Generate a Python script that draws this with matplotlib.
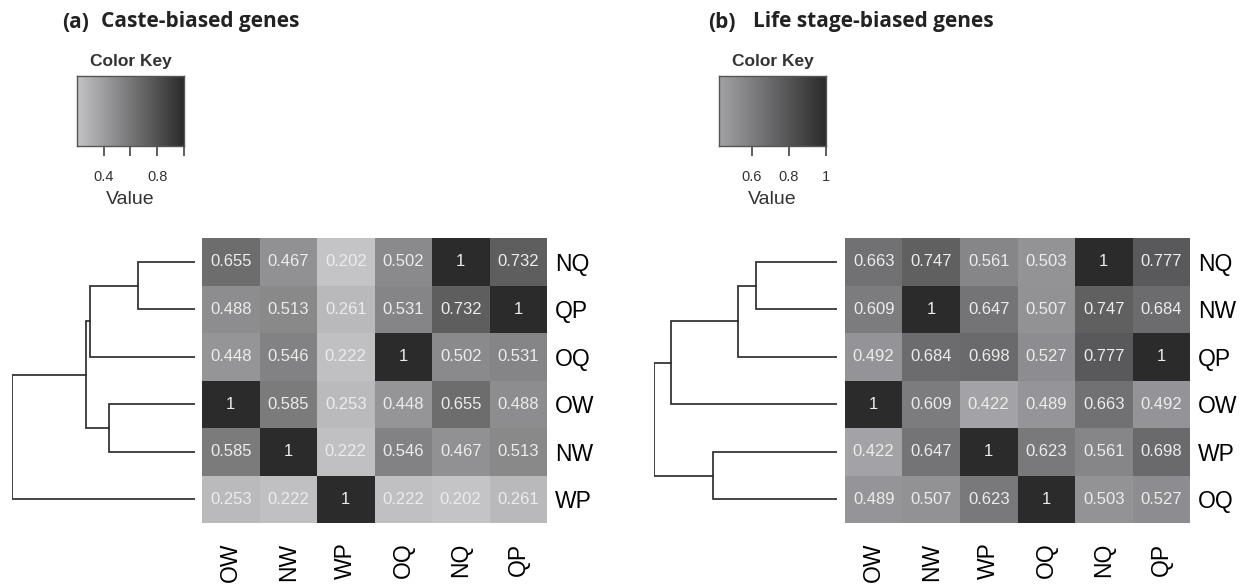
import numpy as np
import matplotlib
matplotlib.use("Agg")
import matplotlib.pyplot as plt
from matplotlib.colors import LinearSegmentedColormap

plt.rcParams['font.family'] = ['Liberation Sans', 'DejaVu Sans']

# ---- data ----
col_labels = ["OW", "NW", "WP", "OQ", "NQ", "QP"]

# (a) caste-biased genes
rows_a = ["NQ", "QP", "OQ", "OW", "NW", "WP"]
vals_a = [
    [0.655, 0.467, 0.202, 0.502, 1, 0.732],
    [0.488, 0.513, 0.261, 0.531, 0.732, 1],
    [0.448, 0.546, 0.222, 1, 0.502, 0.531],
    [1, 0.585, 0.253, 0.448, 0.655, 0.488],
    [0.585, 1, 0.222, 0.546, 0.467, 0.513],
    [0.253, 0.222, 1, 0.222, 0.202, 0.261],
]
# merges: (child, child, height); leaves are row indices, new clusters numbered from 6
merges_a = [(0, 1, 0.57), (6, 2, 1.04), (3, 4, 0.86), (7, 8, 1.08), (9, 5, 1.82)]
key_ticks_a = [0.4, 0.6, 0.8, 1.0]
key_labels_a = ["0.4", "", "0.8", ""]

# (b) life stage-biased genes
rows_b = ["NQ", "NW", "QP", "OW", "WP", "OQ"]
vals_b = [
    [0.663, 0.747, 0.561, 0.503, 1, 0.777],
    [0.609, 1, 0.647, 0.507, 0.747, 0.684],
    [0.492, 0.684, 0.698, 0.527, 0.777, 1],
    [1, 0.609, 0.422, 0.489, 0.663, 0.492],
    [0.422, 0.647, 1, 0.623, 0.561, 0.698],
    [0.489, 0.507, 0.623, 1, 0.503, 0.527],
]
merges_b = [(0, 1, 0.81), (6, 2, 0.99), (7, 3, 1.66), (4, 5, 1.24), (8, 9, 1.83)]
key_ticks_b = [0.6, 0.8, 1.0]
key_labels_b = ["0.6", "0.8", "1"]

W, H = 1260, 588
fig = plt.figure(figsize=(W / 100, H / 100), dpi=100)


def px_axes(x0, y0, x1, y1):
    # pixel box (top-left origin) -> figure axes
    return fig.add_axes([x0 / W, 1 - y1 / H, (x1 - x0) / W, (y1 - y0) / H])


def draw_dendro(ax, merges, n):
    pos = {i: (i + 0.5, 0.0) for i in range(n)}
    nid = n
    for a, b, h in merges:
        ya, ha = pos[a]
        yb, hb = pos[b]
        ax.plot([ha, h, h, hb], [ya, ya, yb, yb], color="#2e2e2e", lw=1.25,
                solid_joinstyle="miter")
        pos[nid] = ((ya + yb) / 2, h)
        nid += 1
    ax.set_ylim(n, 0)
    ax.set_xlim(merges[-1][2], 0)
    ax.axis("off")


def panel(vals, rows, merges, ticks, tlabels, light, heat_x0, dend_x0, key_x0,
          tag, title, tag_x, title_x):
    data = np.array(vals)
    vmin = data.min()
    cmap = LinearSegmentedColormap.from_list("g", [light, "#2b2b2b"])

    ax = px_axes(heat_x0, 238, heat_x0 + 345, 523)
    ax.pcolormesh(np.arange(7), np.arange(7), data, cmap=cmap, vmin=vmin, vmax=1)
    ax.set_xlim(0, 6)
    ax.set_ylim(6, 0)
    for i in range(6):
        for j in range(6):
            v = data[i, j]
            ax.text(j + 0.5, i + 0.5, f"{v:g}", ha="center", va="center",
                    color="#ececec", fontsize=12)
    ax.set_xticks(np.arange(6) + 0.5)
    ax.set_xticklabels(col_labels, rotation=90, fontsize=16.5, va="top")
    ax.set_yticks(np.arange(6) + 0.5)
    ax.set_yticklabels(rows, fontsize=16.5)
    ax.yaxis.tick_right()
    ax.tick_params(length=0, pad=6)
    ax.tick_params(axis="x", pad=14)
    for s in ax.spines.values():
        s.set_visible(False)

    dax = px_axes(dend_x0, 238, dend_x0 + 183, 523)
    draw_dendro(dax, merges, 6)

    kax = px_axes(key_x0, 76, key_x0 + 107, 146)
    grad = np.linspace(vmin, 1, 256)[None, :]
    kax.imshow(grad, aspect="auto", cmap=cmap, vmin=vmin, vmax=1,
               extent=[vmin, 1, 0, 1])
    kax.set_xlim(vmin, 1)
    kax.set_yticks([])
    kax.set_xticks(ticks)
    kax.set_xticklabels(tlabels, fontsize=10.5, color="#333333")
    kax.tick_params(axis="x", length=7, width=1.1, color="#333333", pad=10)
    for s in kax.spines.values():
        s.set_color("#555555")
        s.set_linewidth(1.0)
    kax.set_title("Color Key", fontsize=12.5, fontweight="bold", color="#333333", pad=7)
    kax.set_xlabel("Value", fontsize=14, color="#333333", labelpad=5)

    tfont = ["Open Sans", "DejaVu Sans"]
    fig.text(tag_x / W, 1 - 22 / H, tag, fontsize=15, fontweight="bold",
             family=tfont, va="center", ha="left", color="#222222")
    fig.text(title_x / W, 1 - 22 / H, title, fontsize=15, fontweight="bold",
             family=tfont, va="center", ha="left", color="#222222")


panel(vals_a, rows_a, merges_a, key_ticks_a, key_labels_a, "#c4c4c7",
      202, 12, 77, "(a)", "Caste-biased genes", 62, 101)
panel(vals_b, rows_b, merges_b, key_ticks_b, key_labels_b, "#a3a3a7",
      845, 654, 719, "(b)", "Life stage-biased genes", 708, 753)

fig.savefig("out.png", dpi=100)
